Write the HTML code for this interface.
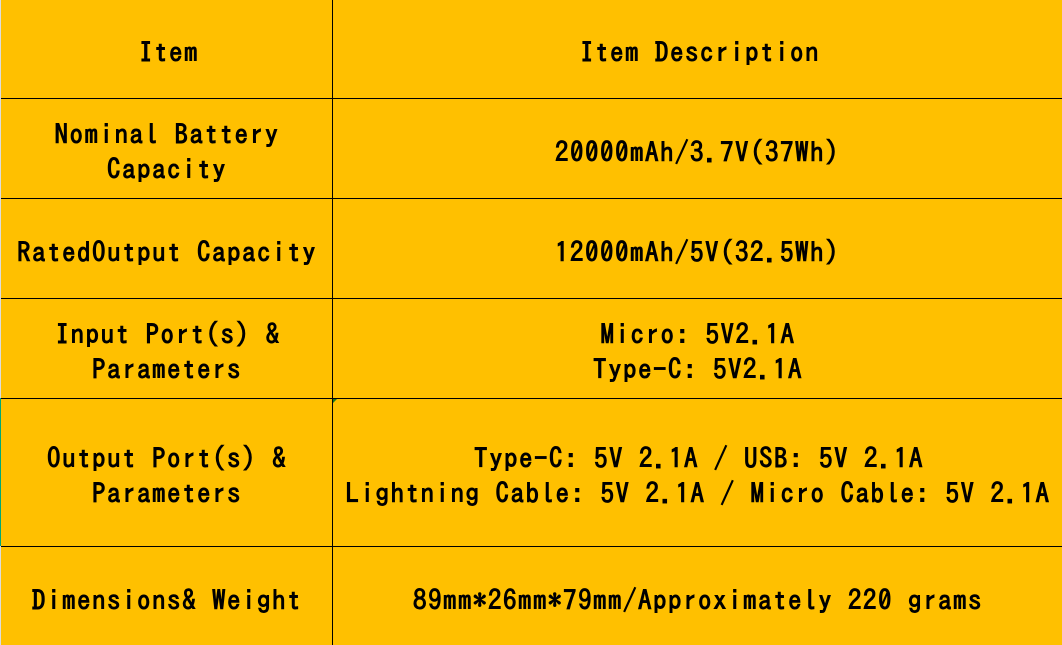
<!DOCTYPE html>
<html><head><meta charset="utf-8"><style>
html,body{margin:0;padding:0;width:1062px;height:645px;overflow:hidden;background:#FFC000}
#p{position:relative;width:1062px;height:645px;background:#FFC000;overflow:hidden}
.h,.v,.t{position:absolute}
.h{left:1px;width:1061px;height:1px;background:#000}
.v{left:332px;top:0;width:1px;height:645px;background:#000}
.t{transform:translateX(-50%);white-space:pre;font:bold 27px/30px "IPAGothic","Liberation Mono",monospace;letter-spacing:1.5px;color:#000;text-align:center}
</style></head><body><div id="p">
<div style="position:absolute;left:0;top:0;width:1px;height:645px;background:#ddd"></div>
<div style="position:absolute;left:0;top:398px;width:1px;height:148px;background:#00a878"></div>
<div class="h" style="top:98px"></div><div class="h" style="top:198px"></div><div class="h" style="top:298px"></div><div class="h" style="top:398px"></div><div class="h" style="top:546px"></div>
<div class="v"></div>
<div style="position:absolute;left:333px;top:399px;width:0;height:0;border-top:4px solid #1a7a1a;border-right:4px solid transparent"></div>
<div class="t" style="left:169px;top:38px">Item</div>
<div class="t" style="left:700px;top:38px">Item Description</div>
<div class="t" style="left:167px;top:120px">Nominal Battery</div>
<div class="t" style="left:167px;top:155px">Capacity</div>
<div class="t" style="left:697.5px;top:138px">20000mAh/3.7V(37Wh)</div>
<div class="t" style="left:697.5px;top:238px">12000mAh/5V(32.5Wh)</div>
<div class="t" style="left:167px;top:238px">RatedOutput Capacity</div>
<div class="t" style="left:168px;top:320px">Input Port(s) &amp;</div>
<div class="t" style="left:167px;top:355px">Parameters</div>
<div class="t" style="left:698px;top:320px">Micro: 5V2.1A</div>
<div class="t" style="left:698px;top:355px">Type-C: 5V2.1A</div>
<div class="t" style="left:167px;top:444px">Output Port(s) &amp;</div>
<div class="t" style="left:167px;top:479px">Parameters</div>
<div class="t" style="left:699px;top:444px">Type-C: 5V 2.1A / USB: 5V 2.1A</div>
<div class="t" style="left:698px;top:479px">Lightning Cable: 5V 2.1A / Micro Cable: 5V 2.1A</div>
<div class="t" style="left:167px;top:586px">Dimensions&amp; Weight</div>
<div class="t" style="left:698px;top:586px">89mm*26mm*79mm/Approximately 220 grams</div>
</div></body></html>
